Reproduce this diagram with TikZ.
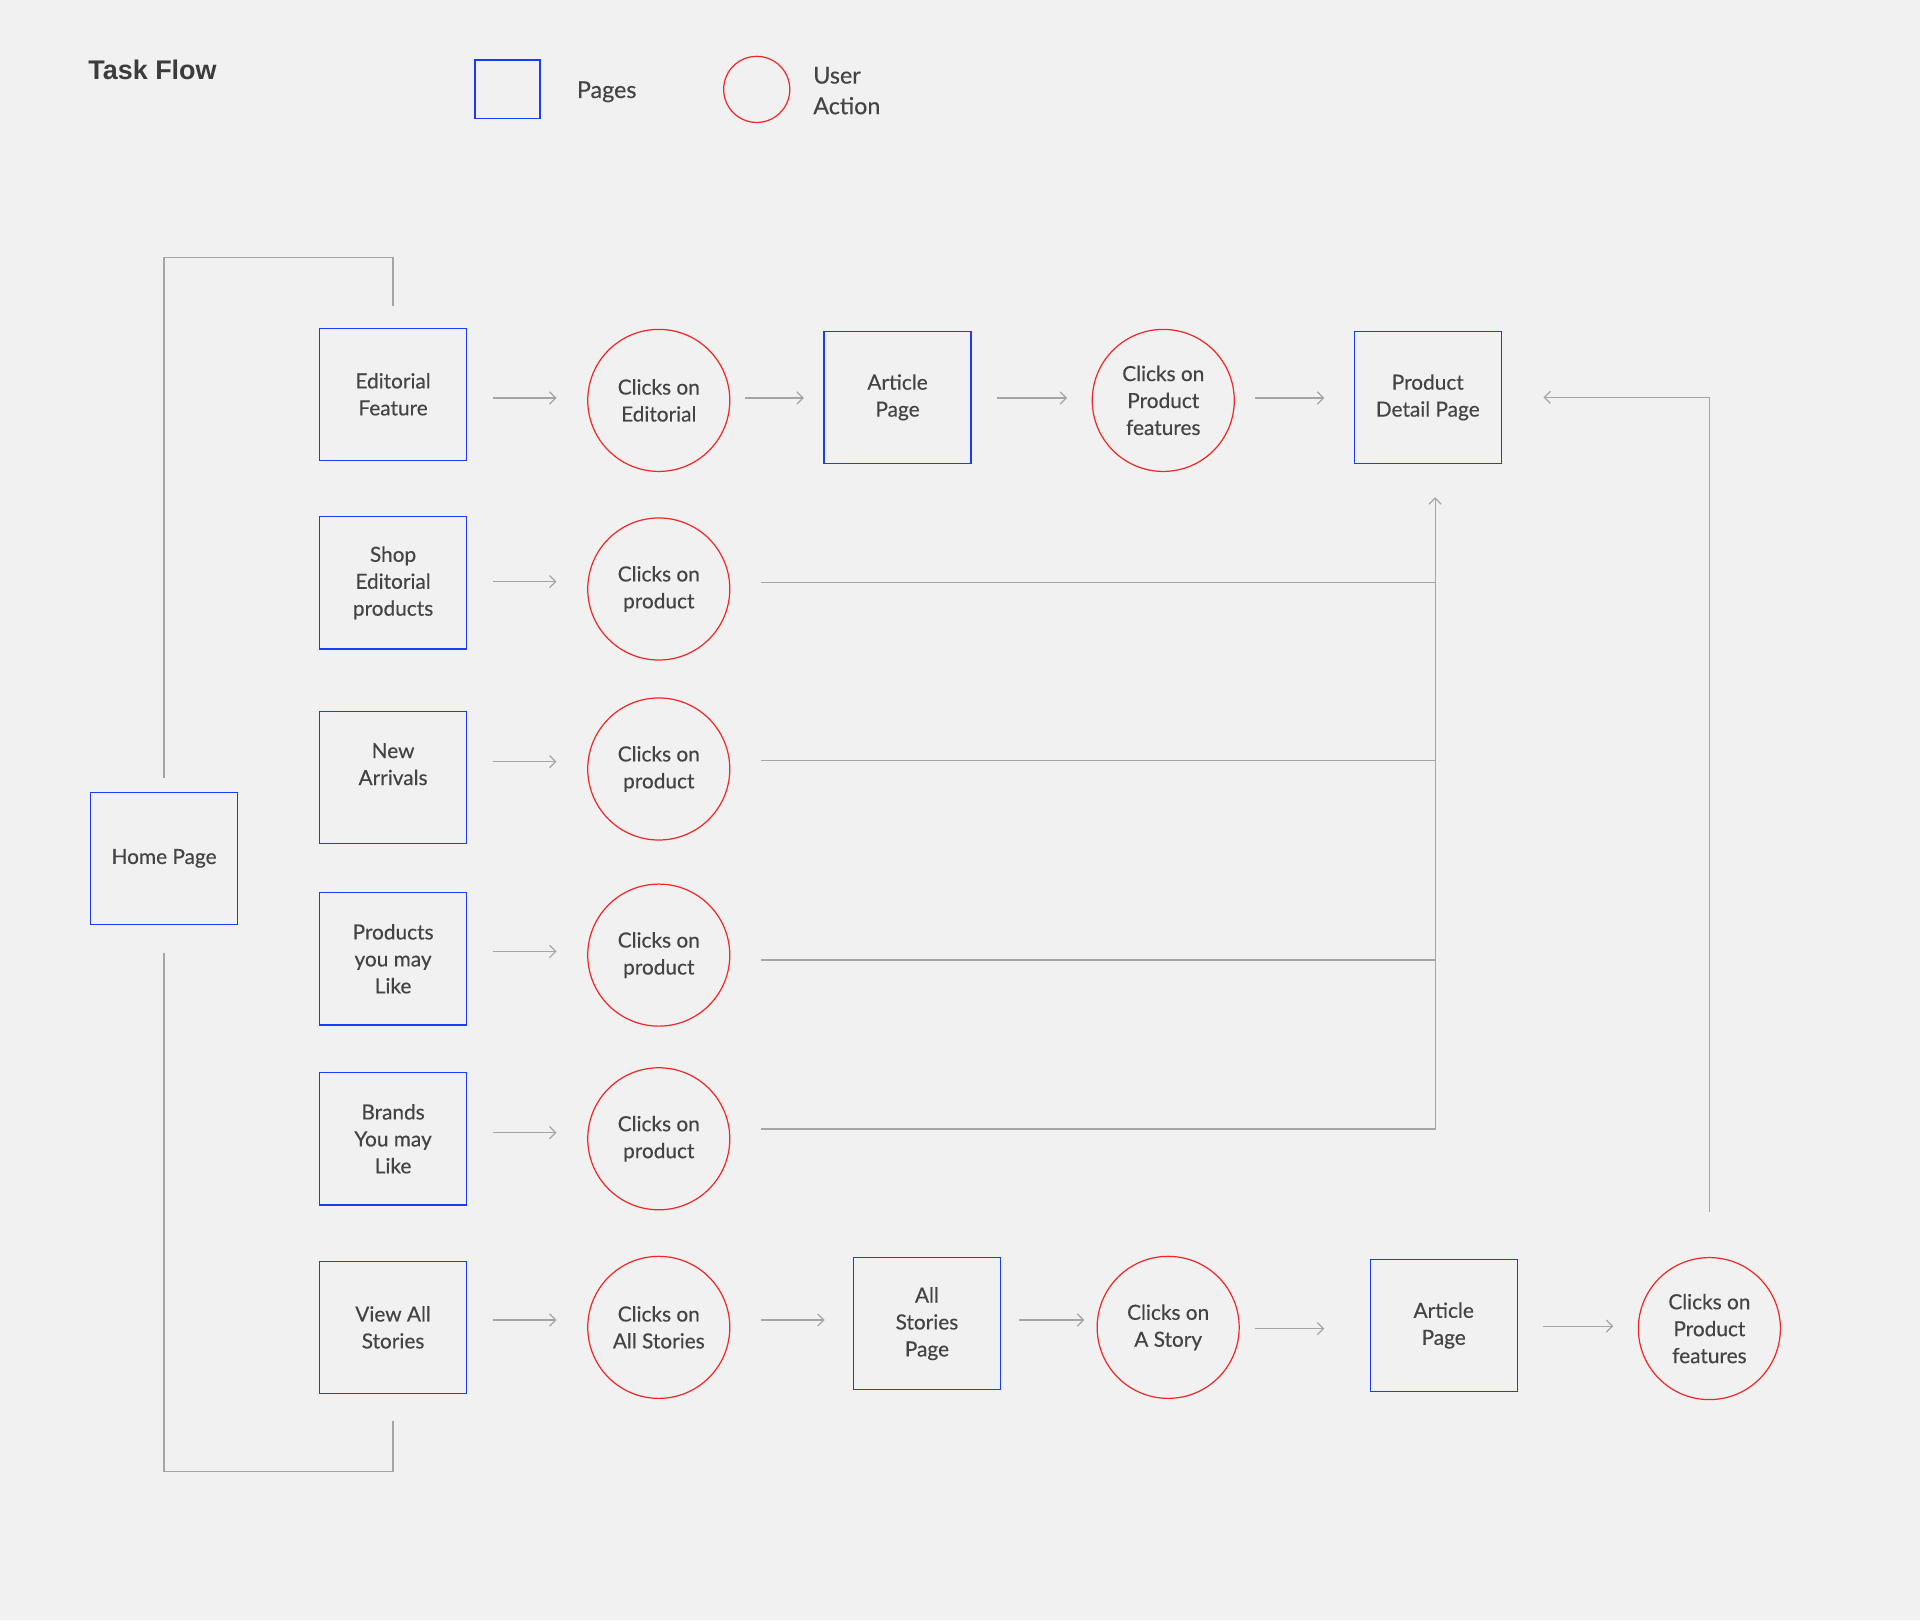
\documentclass[tikz,border=0pt]{standalone}
\usepackage{fontspec}
\setmainfont{Lato}[UprightFeatures={FakeBold=0.35}]
\newfontfamily\titlefont{Liberation Sans}
\usetikzlibrary{arrows.meta,calc}
\definecolor{bgc}{RGB}{241,241,241}
\definecolor{pageblue}{RGB}{22,62,250}
\definecolor{actred}{RGB}{242,40,40}
\definecolor{linegray}{RGB}{165,165,165}
\definecolor{txt}{RGB}{68,68,68}
\definecolor{titlec}{RGB}{60,60,60}
\begin{document}
\begin{tikzpicture}[x=1pt,y=-1pt,
  page/.style={draw=pageblue, line width=1pt, minimum width=120pt, minimum height=108pt, inner sep=0pt, align=center, text=txt, font=\fontsize{17}{22}\selectfont},
  act/.style={draw=actred, circle, line width=1pt, minimum size=116pt, inner sep=0pt, align=center, text=txt, font=\fontsize{17}{22}\selectfont},
  flow/.style={draw=linegray, line width=1pt, -{Straight Barb[length=5pt,width=10pt]}},
  link/.style={draw=linegray, line width=1pt},
  legtext/.style={text=txt, font=\fontsize{19}{25}\selectfont, inner sep=0pt},
  titletext/.style={text=titlec, font=\titlefont\bfseries\fontsize{22}{26}\selectfont, inner sep=0pt}
]
\fill[bgc] (0,0) rectangle (1568,1323);
\useasboundingbox (0,0) rectangle (1568,1323);

% title and legend
\node[titletext, anchor=west] (title) at (72,57) {Task Flow};
\node[page, minimum width=53pt, minimum height=48pt] (legpage) at (414.5,73) {};
\node[legtext, anchor=base west] (legpagetxt) at (471,80) {Pages};
\node[act, minimum size=54pt] (legact) at (618,73) {};
\node[legtext, anchor=west, align=left] (legacttxt) at (664,74) {User\\Action};

% pages, first column
\node[page] (hp) at (134,701) {Home Page};
\node[page] (ef) at (321,322) {Editorial\\Feature};
\node[page] (se) at (321,476) {Shop\\Editorial\\products};
\node[page] (na) at (321,635) {New\\Arrivals\\~};
\node[page] (pl) at (321,783) {Products\\you may\\Like};
\node[page] (br) at (321,930) {Brands\\You may\\Like};
\node[page] (vs) at (321,1084) {View All\\Stories};

% user actions, second column
\node[act] (c1) at (538,327) {Clicks on\\Editorial};
\node[act] (c2) at (538,481) {Clicks on\\product};
\node[act] (c3) at (538,628) {Clicks on\\product};
\node[act] (c4) at (538,780) {Clicks on\\product};
\node[act] (c5) at (538,930) {Clicks on\\product};
\node[act] (c6) at (538,1084) {Clicks on\\All Stories};

% top row
\node[page] (ap) at (733,324.5) {Article\\Page};
\node[act] (cf) at (950,327) {Clicks on\\Product\\features};
\node[page] (pdp) at (1166,324.5) {Product\\Detail Page};

% bottom row
\node[page] (asp) at (757,1081) {All\\Stories\\Page};
\node[act] (cs) at (954,1084) {Clicks on\\A Story};
\node[page] (ap2) at (1179,1082.5) {Article\\Page};
\node[act] (cf2) at (1396,1085) {Clicks on\\Product\\features};

\coordinate (bus) at (1172,922);
\coordinate (topy) at (0,210);
\coordinate (boty) at (0,1202);

% top row arrows
\draw[flow, shorten <=21pt, shorten >=25pt] ([yshift=-3pt]ef.east) -- ([yshift=-3pt]ef.east -| c1.west);
\draw[flow, shorten <=12pt, shorten >=16pt] ([yshift=2pt]c1.east) -- ([yshift=2pt]c1.east -| ap.west);
\draw[flow, shorten <=21pt, shorten >=20pt] ([yshift=-0.5pt]ap.east) -- ([yshift=-0.5pt]ap.east -| cf.west);
\draw[flow, shorten <=16pt, shorten >=24pt] ([yshift=2pt]cf.east) -- ([yshift=2pt]cf.east -| pdp.west);

% box to action arrows
\draw[flow, shorten <=21pt, shorten >=25pt] ([yshift=1pt]se.east) -- ([yshift=1pt]se.east -| c2.west);
\draw[flow, shorten <=21pt, shorten >=25pt] ([yshift=13pt]na.east) -- ([yshift=13pt]na.east -| c3.west);
\draw[flow, shorten <=21pt, shorten >=25pt] ([yshift=6pt]pl.east) -- ([yshift=6pt]pl.east -| c4.west);
\draw[flow, shorten <=21pt, shorten >=25pt] ([yshift=5pt]br.east) -- ([yshift=5pt]br.east -| c5.west);
\draw[flow, shorten <=21pt, shorten >=25pt] ([yshift=6pt]vs.east) -- ([yshift=6pt]vs.east -| c6.west);

% product lines to bus
\draw[link, shorten <=25pt] ([yshift=5pt]c2.east) -- ([yshift=5pt]c2.east -| bus);
\draw[link, shorten <=25pt] ([yshift=7pt]c3.east) -- ([yshift=7pt]c3.east -| bus);
\draw[link, shorten <=25pt] ([yshift=-4pt]c4.east) -- ([yshift=-4pt]c4.east -| bus);
\draw[flow, shorten <=25pt, shorten >=27pt] ([yshift=8pt]c5.east) -- (bus) -- (bus |- pdp.south);

% bottom row arrows
\draw[flow, shorten <=25pt, shorten >=23pt] ([yshift=6pt]c6.east) -- ([yshift=6pt]c6.east -| asp.west);
\draw[flow, shorten <=15pt, shorten >=10pt] ([yshift=3pt]asp.east) -- ([yshift=3pt]asp.east -| cs.west);
\draw[flow, shorten <=12pt, shorten >=37pt] ([yshift=-1pt]cs.east) -- ([yshift=-1pt]cs.east -| ap2.west);
\draw[flow, shorten <=21pt, shorten >=20pt] ([yshift=-0.5pt]ap2.east) -- ([yshift=-0.5pt]ap2.east -| cf2.west);

% loop back to product detail page
\draw[flow, shorten <=37pt, shorten >=34pt] (cf2.north) -- (cf2.north |- pdp.east) -- (pdp.east);

% home page brackets
\draw[link, shorten <=11pt, shorten >=18pt] (hp.north) |- (topy -| ef.north) -- (ef.north);
\draw[link, shorten <=23pt, shorten >=22pt] (hp.south) |- (boty -| vs.south) -- (vs.south);
\end{tikzpicture}
\end{document}
